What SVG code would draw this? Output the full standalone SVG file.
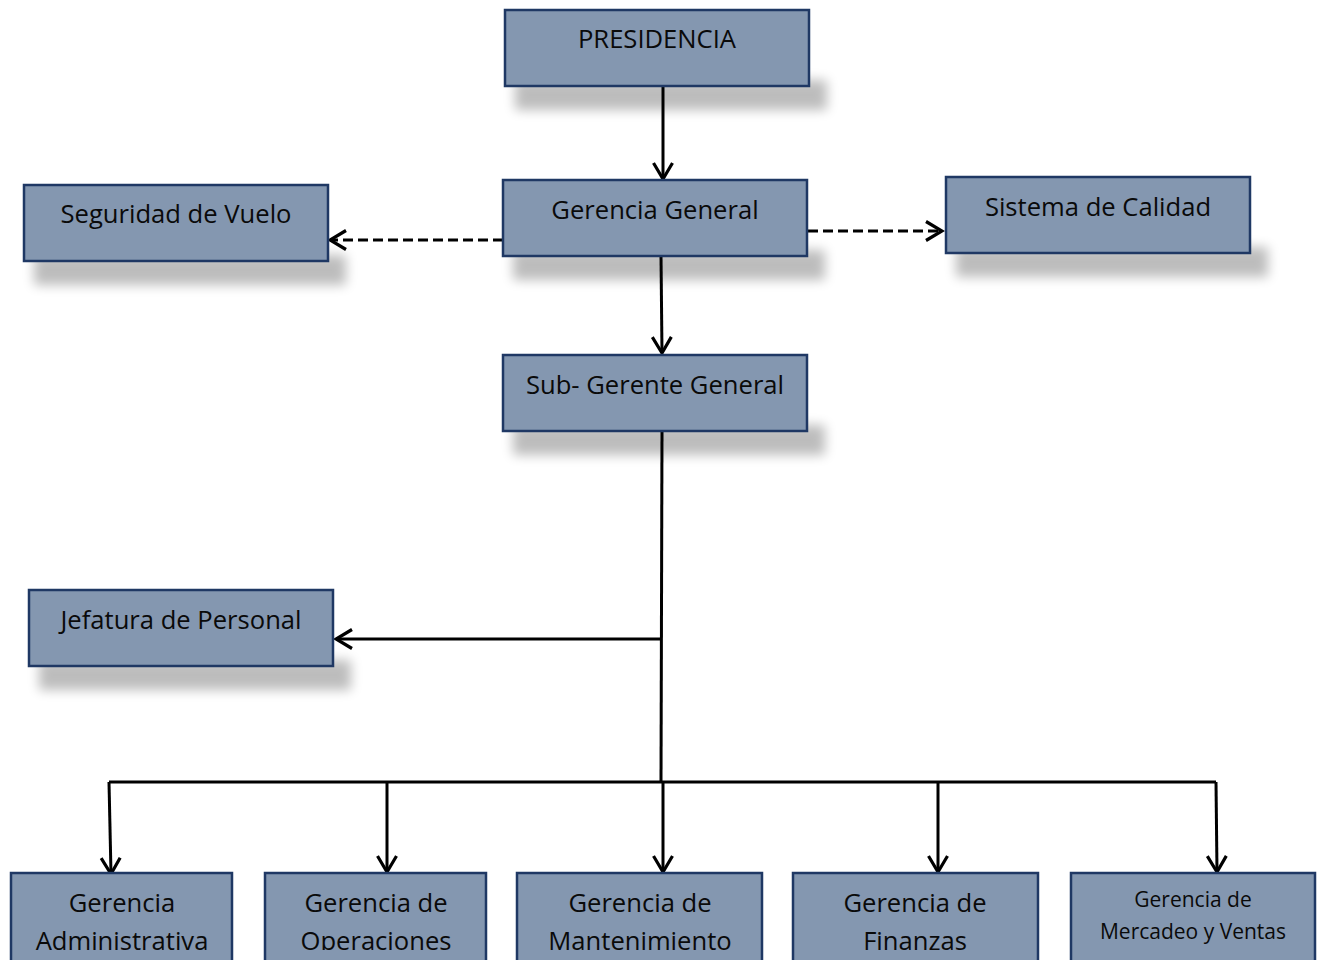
<svg xmlns="http://www.w3.org/2000/svg" width="1322" height="960" viewBox="0 0 1322 960">
<style>
.box{fill:#8497b0;stroke:#1f3864;stroke-width:2.5}
.sh{fill:#000;opacity:0.26}
.t{font-family:"Open Sans","Liberation Sans",sans-serif;font-size:25.6px;fill:#0a0a0a;text-anchor:middle}
.ts{font-family:"Open Sans","Liberation Sans",sans-serif;font-size:21px;fill:#0a0a0a;text-anchor:middle}
.ln{stroke:#000;stroke-width:3;fill:none}
.dash{stroke:#000;stroke-width:3;fill:none;stroke-dasharray:10 5}
</style>
<defs>
<filter id="bl" x="-20%" y="-100%" width="140%" height="300%">
<feGaussianBlur stdDeviation="6"/>
</filter>
<marker id="ah" viewBox="0 0 24 24" refX="21" refY="12" markerWidth="24" markerHeight="24" markerUnits="userSpaceOnUse" orient="auto">
<path d="M5,2.5 L21,12 L5,21.5" fill="none" stroke="#000" stroke-width="3.2"/>
</marker>
<clipPath id="cb"><rect x="0" y="0" width="1322" height="950"/></clipPath>
</defs>
<g id="connectors">
<line class="ln" x1="663" y1="86" x2="663" y2="179" marker-end="url(#ah)"/>
<line class="ln" x1="661" y1="256" x2="662" y2="353" marker-end="url(#ah)"/>
<line class="dash" x1="503" y1="240" x2="330" y2="240" marker-end="url(#ah)"/>
<line class="dash" x1="808" y1="231" x2="942" y2="231" marker-end="url(#ah)"/>
<line class="ln" x1="662" y1="431" x2="661" y2="782"/>
<line class="ln" x1="661" y1="639" x2="336" y2="639" marker-end="url(#ah)"/>
<polyline class="ln" points="109,782 1216,782"/>
<line class="ln" x1="109" y1="782" x2="111" y2="874" marker-end="url(#ah)"/>
<line class="ln" x1="387" y1="782" x2="387" y2="872" marker-end="url(#ah)"/>
<line class="ln" x1="663" y1="782" x2="663" y2="872" marker-end="url(#ah)"/>
<line class="ln" x1="938" y1="782" x2="938" y2="872" marker-end="url(#ah)"/>
<line class="ln" x1="1216" y1="782" x2="1217" y2="872" marker-end="url(#ah)"/>
</g>
<g id="presidencia"><rect class="sh" x="515" y="80" width="312" height="30" filter="url(#bl)"/><rect class="box" x="505" y="10" width="304" height="76"/><text class="t" x="657" y="48">PRESIDENCIA</text></g>
<g id="gerencia-general"><rect class="sh" x="513" y="250" width="312" height="30" filter="url(#bl)"/><rect class="box" x="503" y="180" width="304" height="76"/><text class="t" x="655" y="219">Gerencia General</text></g>
<g id="seguridad-vuelo"><rect class="sh" x="34" y="255" width="312" height="30" filter="url(#bl)"/><rect class="box" x="24" y="185" width="304" height="76"/><text class="t" x="176" y="223">Seguridad de Vuelo</text></g>
<g id="sistema-calidad"><rect class="sh" x="956" y="247" width="312" height="30" filter="url(#bl)"/><rect class="box" x="946" y="177" width="304" height="76"/><text class="t" x="1098" y="216">Sistema de Calidad</text></g>
<g id="sub-gerente"><rect class="sh" x="513" y="425" width="312" height="30" filter="url(#bl)"/><rect class="box" x="503" y="355" width="304" height="76"/><text class="t" x="655" y="394">Sub- Gerente General</text></g>
<g id="jefatura-personal"><rect class="sh" x="39" y="660" width="312" height="30" filter="url(#bl)"/><rect class="box" x="29" y="590" width="304" height="76"/><text class="t" x="181" y="629">Jefatura de Personal</text></g>
<g id="gerencia-administrativa"><rect class="box" x="11" y="873" width="221" height="100"/><g clip-path="url(#cb)"><text class="t" x="122" y="912">Gerencia</text><text class="t" x="122" y="950">Administrativa</text></g></g>
<g id="gerencia-operaciones"><rect class="box" x="265" y="873" width="221" height="100"/><g clip-path="url(#cb)"><text class="t" x="376" y="912">Gerencia de</text><text class="t" x="376" y="950">Operaciones</text></g></g>
<g id="gerencia-mantenimiento"><rect class="box" x="517" y="873" width="245" height="100"/><g clip-path="url(#cb)"><text class="t" x="640" y="912">Gerencia de</text><text class="t" x="640" y="950">Mantenimiento</text></g></g>
<g id="gerencia-finanzas"><rect class="box" x="793" y="873" width="245" height="100"/><g clip-path="url(#cb)"><text class="t" x="915" y="912">Gerencia de</text><text class="t" x="915" y="950">Finanzas</text></g></g>
<g id="gerencia-mercadeo"><rect class="box" x="1071" y="873" width="244" height="100"/><text class="ts" x="1193" y="907">Gerencia de</text><text class="ts" x="1193" y="939">Mercadeo y Ventas</text></g>
</svg>
